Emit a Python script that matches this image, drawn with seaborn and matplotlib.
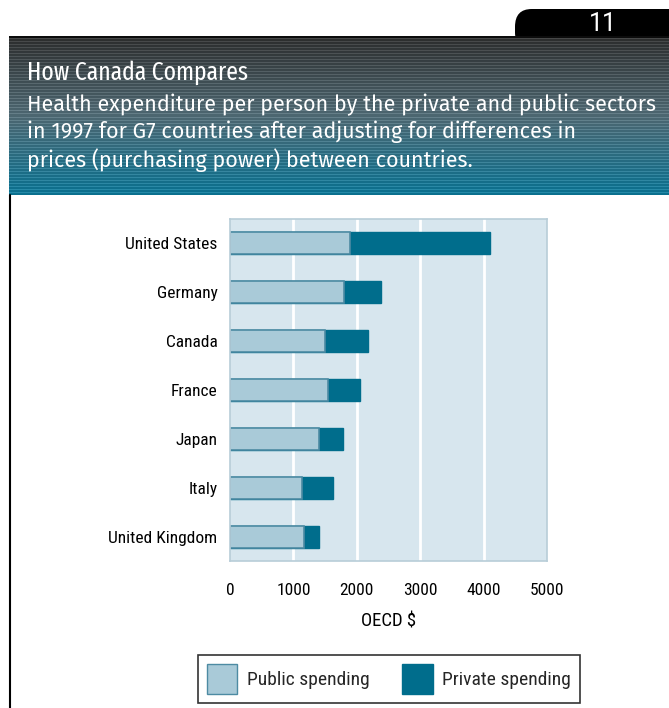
import numpy as np
import matplotlib
matplotlib.use("Agg")
import matplotlib.pyplot as plt
import seaborn as sns
from matplotlib.patches import Patch, FancyBboxPatch
from matplotlib.lines import Line2D

# data (OECD $ per person, 1997)
countries = ["United States", "Germany", "Canada", "France", "Japan", "Italy", "United Kingdom"]
public_spending = [1900, 1800, 1500, 1540, 1400, 1130, 1170]
private_spending = [2200, 580, 680, 510, 380, 500, 240]
x_ticks = [0, 1000, 2000, 3000, 4000, 5000]

title = "How Canada Compares"
subtitle = ("Health expenditure per person by the private and public sectors\n"
            "in 1997 for G7 countries after adjusting for differences in\n"
            "prices (purchasing power) between countries.")

PUBLIC_COL = "#a9cad8"
PUBLIC_EDGE = "#4d8ba3"
PRIVATE_COL = "#006d8c"
BG_COL = "#d7e6ee"

NARROW = ["Roboto Condensed", "PT Sans Narrow", "DejaVu Sans"]
HUMANIST = ["Fira Sans", "Open Sans", "DejaVu Sans"]
TITLE_FONT = ["Fira Sans Extra Condensed", "Roboto Condensed", "DejaVu Sans"]

sns.set_style("white")
plt.rcParams["font.family"] = NARROW

W, H = 669, 708
fig = plt.figure(figsize=(W / 100, H / 100), dpi=100)

# ---- header band with stripes ----
hx0, hy0, hy1 = 9, 36, 195
hax = fig.add_axes([hx0 / W, 1 - hy1 / H, (W - hx0) / W, (hy1 - hy0) / H])
rows = hy1 - hy0
t = np.linspace(0, 1, rows)[:, None]
top = np.array([0.17, 0.17, 0.17])
mid = np.array([0.30, 0.40, 0.44])
bot = np.array([0.04, 0.44, 0.56])
grad = np.where(t < 0.5, top + (mid - top) * (t / 0.5), mid + (bot - mid) * ((t - 0.5) / 0.5))
stripe = np.where(np.arange(rows) % 3 == 0, 0.10, 0.0)[:, None]
img = np.clip(grad + stripe, 0, 1)
img[:3] = 0.05
img = np.repeat(img[:, None, :], 4, axis=1)
hax.imshow(img, aspect="auto", extent=[0, 1, 0, 1], interpolation="nearest")
hax.set_xlim(0, 1)
hax.set_ylim(0, 1)
hax.axis("off")

# page tab with number (bottom hidden under the header band)
tab = FancyBboxPatch((515 / W, 1 - 50 / H), 180 / W, 41 / H,
                     boxstyle="round,pad=0,rounding_size=0.025",
                     transform=fig.transFigure, facecolor="black", edgecolor="none",
                     zorder=-1)
fig.patches.append(tab)
fig.text(603 / W, 1 - 31 / H, "11", color="white", fontsize=18, ha="center",
         va="baseline", family=["Roboto", "DejaVu Sans"])

fig.text(27 / W, 1 - 80 / H, title, color="white", fontsize=18.5, va="baseline",
         family=TITLE_FONT, weight="normal")
fig.text(27 / W, 1 - 94 / H, subtitle, color="white", fontsize=15.5, va="top",
         linespacing=1.27, family=HUMANIST)

# left page rule
fig.add_artist(Line2D([9.5 / W, 9.5 / W], [0, 1 - hy1 / H], color="black", lw=1.5,
                      transform=fig.transFigure))

# ---- bar chart ----
ax = fig.add_axes([230 / W, 1 - 561 / H, 317 / W, 342 / H])
ax.set_facecolor(BG_COL)
totals = [a + b for a, b in zip(public_spending, private_spending)]
sns.barplot(x=totals, y=countries, color=PRIVATE_COL, orient="h", width=0.45,
            edgecolor=PRIVATE_COL, linewidth=1, saturation=1, ax=ax)
sns.barplot(x=public_spending, y=countries, color=PUBLIC_COL, orient="h", width=0.45,
            edgecolor=PUBLIC_EDGE, linewidth=1.2, saturation=1, ax=ax)
ax.set_xlim(0, 5000)
ax.set_xticks(x_ticks)
ax.set_xticklabels([str(v) for v in x_ticks])
for v in x_ticks[1:-1]:
    ax.axvline(v, color="white", lw=2, zorder=0.5)
ax.set_axisbelow(True)
for s in ax.spines.values():
    s.set_color("#b8cdd8")
    s.set_linewidth(1.2)
ax.set_yticks(np.arange(len(countries)) + 0.5, minor=True)
ax.tick_params(axis="y", which="major", length=0, pad=9, labelsize=12.5, labelcolor="black")
ax.tick_params(axis="y", which="minor", length=4, color="#b8cdd8", width=1.2)
ax.tick_params(axis="x", length=4, color="#b8cdd8", width=1.2, pad=12, labelsize=12.5,
               labelcolor="black")
ax.set_xlabel("OECD $", fontsize=13.5, labelpad=10, color="black")
ax.set_ylabel("")

handles = [Patch(facecolor=PUBLIC_COL, edgecolor=PUBLIC_EDGE, label="Public spending"),
           Patch(facecolor=PRIVATE_COL, edgecolor=PRIVATE_COL, label="Private spending")]
leg = fig.legend(handles=handles, loc="center", bbox_to_anchor=(389 / W, 1 - 679 / H),
                 ncol=2, frameon=True, fancybox=False, fontsize=14,
                 handlelength=1.55, handleheight=2.0, columnspacing=1.7,
                 handletextpad=0.5, borderpad=0.45)
leg.get_frame().set_edgecolor("black")
leg.get_frame().set_linewidth(1.2)

fig.savefig("out.png", dpi=100, facecolor="white")
